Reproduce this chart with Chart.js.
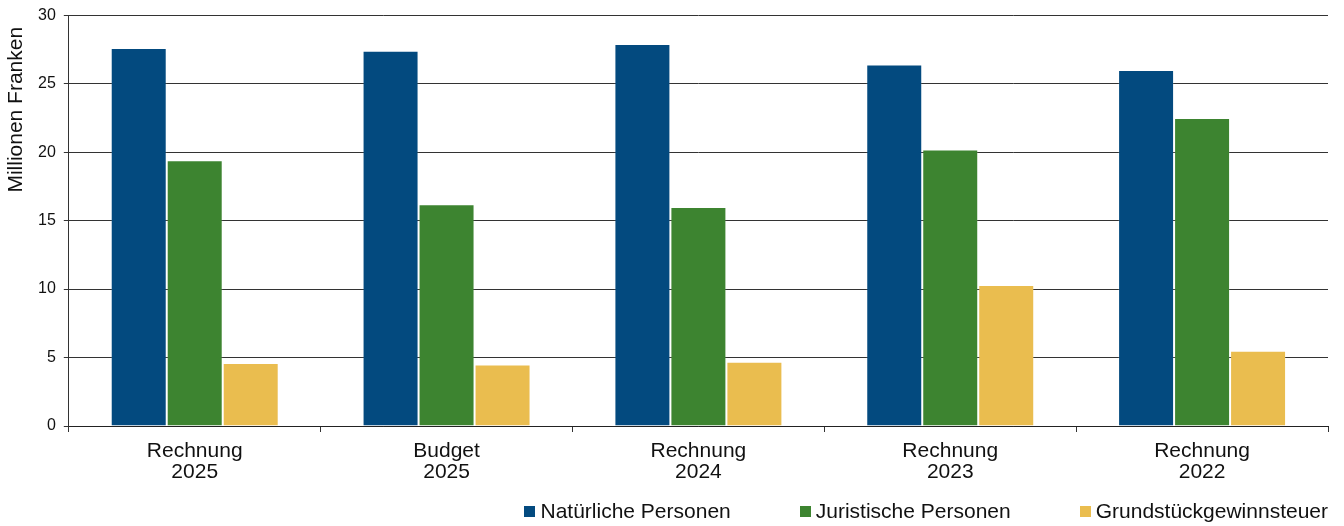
<!DOCTYPE html>
<html>
<head>
<meta charset="utf-8">
<script src="https://cdn.jsdelivr.net/npm/chart.js@4"></script>
<style>
    html, body { margin: 0; padding: 0; background: #fff; }
    #wrap { position: relative; width: 1344px; height: 526px; }
    #legend {
        position: absolute; right: 16px; top: 499px;
        display: flex; gap: 69px;
        font-family: "Liberation Sans", Arial, sans-serif; font-size: 21px; line-height: 24px; color: #111;
    }
    .item { display: flex; align-items: center; }
    .box { width: 11px; height: 11px; margin-right: 5px; }
</style>
</head>
<body>
<div id="wrap">
    <canvas id="chart" width="1344" height="526"></canvas>
    <div id="legend"></div>
</div>
<script>
// Chart data
const categories = [['Rechnung', '2025'], ['Budget', '2025'], ['Rechnung', '2024'], ['Rechnung', '2023'], ['Rechnung', '2022']];
const seriesNames = ['Natürliche Personen', 'Juristische Personen', 'Grundstückgewinnsteuer'];
const natuerliche = [27.6, 27.4, 27.9, 26.4, 26.0];
const juristische = [19.4, 16.2, 16.0, 20.2, 22.5];
const grundstueck = [4.6, 4.5, 4.7, 10.3, 5.5];
const colors = ['#034a7f', '#3d8430', '#eabd4f'];

const family = '"Liberation Sans", Arial, sans-serif';

const datasets = [natuerliche, juristische, grundstueck].map((values, i) => ({
    label: seriesNames[i],
    data: values,
    backgroundColor: colors[i],
    borderColor: 'rgba(255,255,255,0.15)',
    borderWidth: 1,
    categoryPercentage: 0.667,
    barPercentage: 1
}));

new Chart(document.getElementById('chart'), {
    type: 'bar',
    data: { labels: categories, datasets: datasets },
    options: {
        responsive: false,
        animation: false,
        layout: { padding: { top: 0, right: 16, bottom: 34, left: 0 } },
        plugins: { legend: { display: false }, tooltip: { enabled: false } },
        scales: {
            x: {
                grid: { offset: true, drawOnChartArea: false, drawTicks: true, tickLength: 6, color: '#333' },
                border: { display: true, color: '#222', width: 1 },
                ticks: { color: '#111', font: { family: family, size: 21, lineHeight: 1 }, padding: 9, maxRotation: 0 }
            },
            y: {
                min: 0, max: 30,
                ticks: { stepSize: 5, color: '#111', font: { family: family, size: 16, lineHeight: 0.9 }, padding: 8 },
                grid: { color: '#333', tickLength: 5 },
                border: { display: true, color: '#333', width: 1 },
                title: {
                    display: true, text: 'Millionen Franken  ', align: 'end', color: '#111',
                    font: { family: family, size: 21, lineHeight: 1 }, padding: { top: 6, bottom: 3 }
                }
            }
        }
    }
});

// Legend below the chart, aligned right
const legend = document.getElementById('legend');
legend.innerHTML = seriesNames.map((name, i) => `
    <div class="item"><span class="box" style="background:${colors[i]}"></span>${name}</div>
`).join('');
</script>
</body>
</html>
